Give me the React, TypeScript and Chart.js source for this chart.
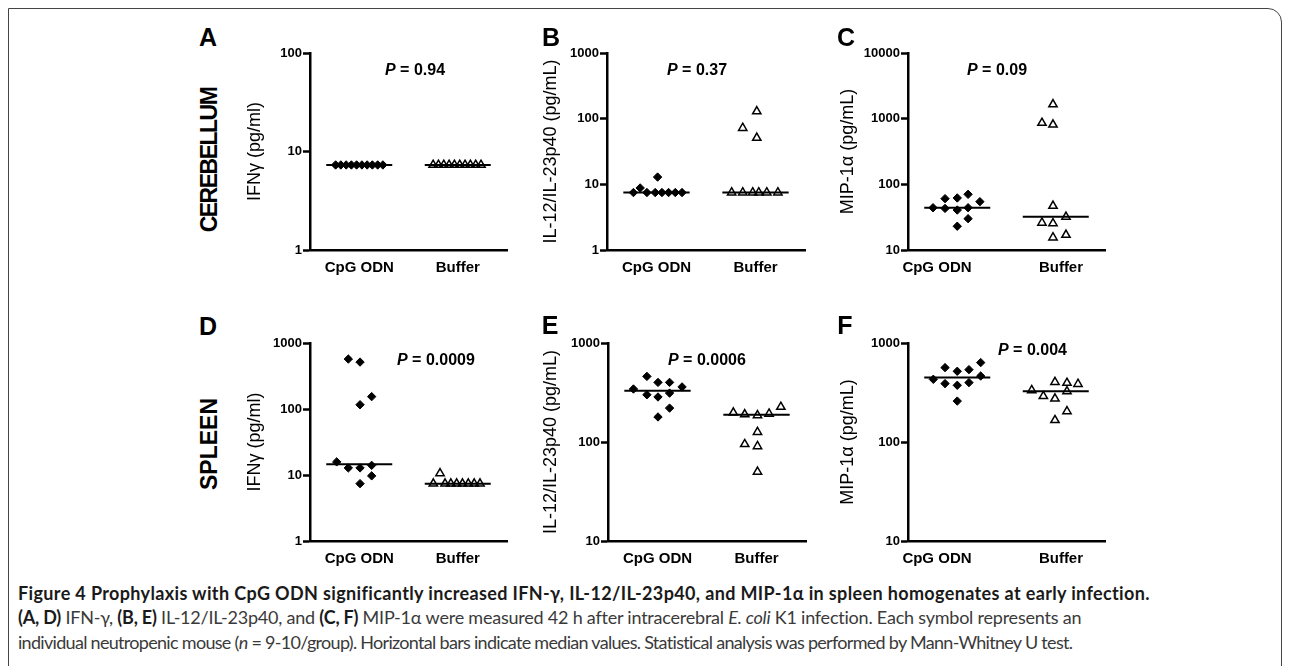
import React, { useEffect, useRef } from "react";
import { Chart, registerables } from "chart.js";
Chart.register(...registerables);

const FONT = "'Liberation Sans', Arial, Helvetica, sans-serif";

// ---------- data ----------
const categories = ["CpG ODN", "Buffer"];
const yTitles = ["IFNγ (pg/ml)", "IL-12/IL-23p40 (pg/mL)", "MIP-1α (pg/mL)"];
const pValues = ["0.94", "0.37", "0.09", "0.0009", "0.0006", "0.004"];
const panelLetters = ["A", "B", "C", "D", "E", "F"];
const rowLabels = ["CEREBELLUM", "SPLEEN"];

const ticksA = [1, 10, 100];
const ticksB = [1, 10, 100, 1000];
const ticksC = [10, 100, 1000, 10000];
const ticksD = [1, 10, 100, 1000];
const ticksE = [10, 100, 1000];
const ticksF = [10, 100, 1000];

// A: cerebellum IFN-gamma
const aCpg = [7.3, 7.3, 7.3, 7.3, 7.3, 7.3, 7.3, 7.3, 7.3, 7.3];
const aCpgJit = [-0.24, -0.187, -0.133, -0.08, -0.027, 0.027, 0.08, 0.133, 0.187, 0.24];
const aBuf = [7.3, 7.3, 7.3, 7.3, 7.3, 7.3, 7.3, 7.3, 7.3, 7.3];
const aBufJit = [-0.25, -0.196, -0.142, -0.088, -0.034, 0.02, 0.074, 0.128, 0.182, 0.236];
const aMed = [7.3, 7.3];

// B: cerebellum IL-12/IL-23p40
const bCpg = [7.5, 8.8, 7.5, 7.5, 12.9, 7.5, 7.5, 7.5, 7.5];
const bCpgJit = [-0.233, -0.165, -0.097, -0.013, 0.011, 0.055, 0.122, 0.19, 0.258];
const bBuf = [7.5, 7.5, 72, 7.5, 129, 51, 7.5, 7.5, 7.5];
const bBufJit = [-0.241, -0.129, -0.129, -0.028, 0.013, 0.013, 0.033, 0.114, 0.226];
const bMed = [7.5, 7.5];

// C: cerebellum MIP-1alpha
const cCpg = [44, 60.5, 43, 62, 40.6, 23, 70.5, 44, 30, 54.5];
const cCpgJit = [-0.246, -0.124, -0.124, 0, 0, 0, 0.11, 0.11, 0.11, 0.23];
const cBuf = [1650, 860, 811, 47, 32, 26, 25.5, 17, 15.5];
const cBufJit = [-0.028, -0.14, -0.028, -0.028, 0.104, -0.14, -0.028, 0.104, -0.028];
const cMed = [44, 32];

// D: spleen IFN-gamma
const dCpg = [571, 514, 154, 116, 15.8, 12.8, 12.8, 14, 9.7, 7.4];
const dCpgJit = [-0.111, 0.008, 0.126, 0.008, -0.229, -0.111, 0.008, 0.126, 0.126, 0.008];
const dBuf = [10.6, 7.4, 7.4, 7.4, 7.4, 7.4, 7.4, 7.4, 7.4];
const dBufJit = [-0.18, -0.248, -0.129, -0.07, -0.011, 0.048, 0.107, 0.167, 0.226];
const dMed = [14.5, 7.4];

// E: spleen IL-12/IL-23p40
const eCpg = [343, 460, 300, 400, 285, 179, 400, 312, 220, 360];
const eCpgJit = [-0.243, -0.107, -0.107, 0.005, 0.005, 0.005, 0.122, 0.122, 0.122, 0.248];
const eBuf = [198, 190, 186, 193, 226, 126, 95, 90.5, 50];
const eBufJit = [-0.234, -0.119, 0.01, 0.127, 0.246, 0.01, -0.119, 0.01, 0.01];
const eMed = [330, 189];

// F: spleen MIP-1alpha
const fCpg = [430, 564, 389, 518, 374, 259, 538, 398, 634, 464];
const fCpgJit = [-0.243, -0.124, -0.124, 0, 0, 0, 0.119, 0.119, 0.238, 0.238];
const fBuf = [333, 290, 403, 274, 166, 325, 395, 204, 385];
const fBufJit = [-0.244, -0.126, -0.008, -0.008, -0.008, 0.114, 0.114, 0.114, 0.226];
const fMed = [447, 325];

// ---------- layout ----------
type Panel = {
  letter: string;
  letterXY: [number, number];
  title: string;
  ticks: number[];
  plot: [number, number, number, number];
  titleX: number;
  labelPos: number[];
  pText: string;
  pXY: [number, number];
  cpg: number[]; cpgJit: number[];
  buf: number[]; bufJit: number[];
  med: number[];
};

const panels: Panel[] = [
  { letter: panelLetters[0], letterXY: [208, 37], title: yTitles[0], ticks: ticksA, plot: [310, 53, 507, 250], titleX: 255, labelPos: [0.5, 1.5], pText: pValues[0], pXY: [385, 70], cpg: aCpg, cpgJit: aCpgJit, buf: aBuf, bufJit: aBufJit, med: aMed },
  { letter: panelLetters[1], letterXY: [551, 37], title: yTitles[1], ticks: ticksB, plot: [607, 53, 805, 250], titleX: 551, labelPos: [0.5, 1.5], pText: pValues[1], pXY: [667, 70], cpg: bCpg, cpgJit: bCpgJit, buf: bBuf, bufJit: bBufJit, med: bMed },
  { letter: panelLetters[2], letterXY: [846, 37], title: yTitles[2], ticks: ticksC, plot: [908, 53, 1105, 250], titleX: 848, labelPos: [0.294, 1.553], pText: pValues[2], pXY: [967, 70], cpg: cCpg, cpgJit: cCpgJit, buf: cBuf, bufJit: cBufJit, med: cMed },
  { letter: panelLetters[3], letterXY: [208, 326], title: yTitles[0], ticks: ticksD, plot: [310, 343, 507, 541], titleX: 255, labelPos: [0.5, 1.5], pText: pValues[3], pXY: [397, 360], cpg: dCpg, cpgJit: dCpgJit, buf: dBuf, bufJit: dBufJit, med: dMed },
  { letter: panelLetters[4], letterXY: [550, 325], title: yTitles[1], ticks: ticksE, plot: [608, 343, 806, 541], titleX: 551, labelPos: [0.5, 1.5], pText: pValues[4], pXY: [668, 360], cpg: eCpg, cpgJit: eCpgJit, buf: eBuf, bufJit: eBufJit, med: eMed },
  { letter: panelLetters[5], letterXY: [845, 325], title: yTitles[2], ticks: ticksF, plot: [908, 343, 1105, 541], titleX: 848, labelPos: [0.294, 1.553], pText: pValues[5], pXY: [998, 350], cpg: fCpg, cpgJit: fCpgJit, buf: fBuf, bufJit: fBufJit, med: fMed },
];

const PAD_TOP = 15;
const PAD_RIGHT = 20;
const X_AXIS_H = 40;
const HALF_LINE = 0.335;

function geometry(p: Panel) {
  const [L, T, R, B] = p.plot;
  const left = Math.round(p.titleX - 15);
  const yW = L - left;
  return { left, top: T - PAD_TOP, width: yW + (R - L) + PAD_RIGHT, height: B - T + PAD_TOP + X_AXIS_H, yW };
}

function PanelChart({ p }: { p: Panel }) {
  const ref = useRef<HTMLCanvasElement | null>(null);
  const g = geometry(p);
  useEffect(() => {
    if (!ref.current) return;
    const pts = (vals: number[], jit: number[], c: number) => vals.map((v, i) => ({ x: c + jit[i], y: v }));
    const medLine = (c: number, v: number) => [{ x: c - HALF_LINE, y: v }, { x: c + HALF_LINE, y: v }];
    const chart = new Chart(ref.current, {
      type: "scatter",
      data: {
        datasets: [
          { type: "line", data: medLine(0.5, p.med[0]), borderColor: "#000", borderWidth: 2, pointRadius: 0, order: 3 } as any,
          { type: "line", data: medLine(1.5, p.med[1]), borderColor: "#000", borderWidth: 2, pointRadius: 0, order: 3 } as any,
          { data: pts(p.cpg, p.cpgJit, 0.5), pointStyle: "rectRot", pointRadius: 4.2, backgroundColor: "#000", borderColor: "#000", borderWidth: 1, order: 1 },
          { data: pts(p.buf, p.bufJit, 1.5), pointStyle: "triangle", pointRadius: 4.8, backgroundColor: "rgba(0,0,0,0)", borderColor: "#000", borderWidth: 1.5, order: 0 },
        ],
      },
      options: {
        animation: false,
        responsive: false,
        devicePixelRatio: 1,
        layout: { padding: { top: PAD_TOP, right: PAD_RIGHT, left: 0, bottom: 0 } },
        plugins: { legend: { display: false }, tooltip: { enabled: false } },
        scales: {
          x: {
            type: "linear",
            min: 0,
            max: 2,
            afterFit: (s: any) => { s.height = X_AXIS_H; },
            afterBuildTicks: (s: any) => { s.ticks = p.labelPos.map((v) => ({ value: v })); },
            ticks: {
              autoSkip: false,
              maxRotation: 0,
              padding: 9,
              color: "#000",
              font: { family: FONT, size: 15, weight: "bold" },
              callback: (_v: any, i: number) => categories[i],
            },
            grid: { display: true, drawOnChartArea: false, drawTicks: false },
            border: { display: true, color: "#000", width: 2.5 },
          },
          y: {
            type: "logarithmic",
            min: p.ticks[0],
            max: p.ticks[p.ticks.length - 1],
            afterFit: (s: any) => { s.width = g.yW; },
            afterBuildTicks: (s: any) => { s.ticks = p.ticks.map((v) => ({ value: v })); },
            ticks: {
              padding: 1,
              color: "#000",
              font: { family: FONT, size: 13, weight: "bold" },
              callback: (v: any) => String(v),
            },
            grid: { display: true, drawOnChartArea: false, drawTicks: true, tickLength: 7, tickWidth: 2.5, tickColor: "#000", color: "#000" },
            border: { display: true, color: "#000", width: 2.5 },
            title: {
              display: true,
              text: p.title,
              color: "#000",
              font: { family: FONT, size: 18, weight: "normal", lineHeight: 1.2 },
              padding: { top: 4, bottom: 0 },
            },
          },
        },
      } as any,
    });
    return () => chart.destroy();
  }, []);
  return (
    <canvas
      ref={ref}
      width={g.width}
      height={g.height}
      style={{ position: "absolute", left: g.left, top: g.top, width: g.width, height: g.height }}
    />
  );
}

const abs = (x: number, y: number): React.CSSProperties => ({ position: "absolute", left: x, top: y });

export default function App() {
  const capFont = "Lato, 'Open Sans', sans-serif";
  const capBase: React.CSSProperties = { fontFamily: capFont, fontSize: 18, whiteSpace: "nowrap", lineHeight: "20px" };
  return (
    <div style={{ position: "absolute", left: 0, top: 0, width: 1290, height: 666, background: "#fff", overflow: "hidden", fontFamily: FONT }}>
      <div
        style={{
          position: "absolute", left: 8, top: 8, width: 1274, height: 672,
          border: "1.5px solid #444", borderRadius: "0 14px 0 14px", boxSizing: "border-box",
        }}
      />
      {panels.map((p, i) => (
        <PanelChart key={i} p={p} />
      ))}
      {panels.map((p, i) => (
        <div key={"l" + i} style={{ ...abs(p.letterXY[0], p.letterXY[1]), transform: "translate(-50%,-50%)", fontSize: 25, fontWeight: "bold", color: "#000", lineHeight: 1 }}>
          {p.letter}
        </div>
      ))}
      {panels.map((p, i) => (
        <div key={"p" + i} style={{ ...abs(p.pXY[0], p.pXY[1]), transform: "translateY(-50%)", fontSize: 16, fontWeight: "bold", color: "#000", whiteSpace: "nowrap", lineHeight: 1 }}>
          <i>P</i> = {p.pText}
        </div>
      ))}
      <div style={{ ...abs(209, 160), transform: "translate(-50%,-50%) rotate(-90deg)", fontSize: 23, fontWeight: "bold", letterSpacing: -1.5, whiteSpace: "nowrap", lineHeight: 1, color: "#000" }}>
        {rowLabels[0]}
      </div>
      <div style={{ ...abs(209, 444), transform: "translate(-50%,-50%) rotate(-90deg)", fontSize: 23, fontWeight: "bold", whiteSpace: "nowrap", lineHeight: 1, color: "#000" }}>
        {rowLabels[1]}
      </div>
      <div style={{ ...abs(18, 583), ...capBase, fontWeight: "bold", color: "#1a1a1a", letterSpacing: 0.36 }}>
        Figure 4 Prophylaxis with CpG ODN significantly increased IFN-γ, IL-12/IL-23p40, and MIP-1α in spleen homogenates at early infection.
      </div>
      <div style={{ ...abs(18, 607), ...capBase, color: "#3a3a3a", letterSpacing: -0.22 }}>
        <b style={{ color: "#1a1a1a" }}>(A, D)</b> IFN-γ, <b style={{ color: "#1a1a1a" }}>(B, E)</b> IL-12/IL-23p40, and <b style={{ color: "#1a1a1a" }}>(C, F)</b> MIP-1α were measured 42 h after intracerebral <i>E. coli</i> K1 infection. Each symbol represents an
      </div>
      <div style={{ ...abs(18, 632), ...capBase, color: "#3a3a3a", letterSpacing: -0.7 }}>
        individual neutropenic mouse (<i>n</i> = 9-10/group). Horizontal bars indicate median values. Statistical analysis was performed by Mann-Whitney U test.
      </div>
    </div>
  );
}
